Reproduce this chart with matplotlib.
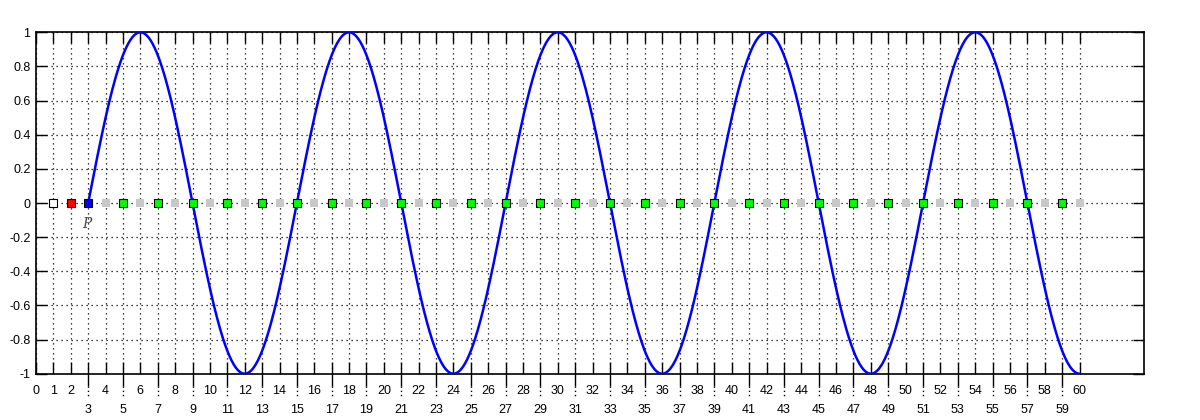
import numpy as np
import matplotlib
matplotlib.use("Agg")
import matplotlib.pyplot as plt
import matplotlib.transforms as mtransforms

# ---- data ----
wave_start = 3
wave_end = 60
wave_period = 12
white_x = [1]
red_x = [2]
blue_x = [3]
green_x = list(range(5, 60, 2))
gray_x = list(range(4, 61, 2))
upper_ticks = [0, 1, 2] + list(range(4, 61, 2))
lower_ticks = list(range(3, 60, 2))
y_ticks = [-1, -0.8, -0.6, -0.4, -0.2, 0, 0.2, 0.4, 0.6, 0.8, 1]
y_labels = ["-1", "-0.8", "-0.6", "-0.4", "-0.2", "0", "0.2", "0.4", "0.6", "0.8", "1"]
point_label = "P"

plt.rcParams['font.family'] = ['Liberation Sans', 'DejaVu Sans']
fig = plt.figure(figsize=(12, 4.2), dpi=100)
ax = fig.add_axes([0.03, 0.1102, 0.9233, 0.8129])

xs = np.linspace(wave_start, wave_end, 2000)
ys = np.sin(2 * np.pi * (xs - wave_start) / wave_period)

ax.plot(gray_x, [0] * len(gray_x), 's', color='#c8c8c8', ms=6, mew=0, zorder=3)
ax.plot(xs, ys, color='#0000ff', lw=1.8, zorder=4)
ax.plot(white_x, [0], 's', mfc='white', mec='black', ms=6, mew=0.8, zorder=5)
ax.plot(red_x, [0], 's', mfc='#ff0000', mec='black', ms=6, mew=0.8, zorder=5)
ax.plot(blue_x, [0], 's', mfc='#0000ff', mec='black', ms=6, mew=0.8, zorder=5)
ax.plot(green_x, [0] * len(green_x), 's', mfc='#00ff00', mec='black', ms=6, mew=0.8, zorder=5)
ax.text(blue_x[0] - 0.05, -0.125, point_label, fontsize=10, style='italic',
        family='DejaVu Serif', color='#444444', ha='center', va='center')

ax.set_xlim(0, 63.7)
ax.set_ylim(-1, 1)

ax.set_xticks(upper_ticks)
ax.set_xticklabels([str(v) for v in upper_ticks])
ax.set_xticks(lower_ticks, minor=True)
ax.set_xticklabels([str(v) for v in lower_ticks], minor=True)
ax.set_yticks(y_ticks)
ax.set_yticklabels(y_labels)

ax.tick_params(axis='x', which='major', direction='in', length=8.5, width=1,
               pad=8.0, labelsize=9, bottom=True, top=False)
ax.tick_params(axis='x', which='minor', direction='inout', length=17, width=1,
               pad=13.0, labelsize=9, bottom=True, top=False)
ax.tick_params(axis='y', which='major', direction='in', length=8, width=1,
               pad=4, labelsize=9, left=True, right=True)

top = ax.secondary_xaxis('top')
top.set_xticks(list(range(0, 61)))
top.tick_params(direction='in', length=8, width=1, labeltop=False)
top.spines['top'].set_visible(False)

# dotted continuation of the lower-row ticks
trans = mtransforms.blended_transform_factory(ax.transData, ax.transAxes)
for xv in lower_ticks:
    ax.plot([xv, xv], [-0.036, -0.066], transform=trans, color='black', lw=1,
            ls=(0, (1, 2)), clip_on=False)

ax.grid(True, which='both', axis='x', color='black', lw=0.9, ls=(0, (1, 3)))
ax.grid(True, which='major', axis='y', color='black', lw=0.9, ls=(0, (1, 3)))
ax.set_axisbelow(True)
for s in ax.spines.values():
    s.set_linewidth(1.2)

fig.savefig("out.png", dpi=100)
